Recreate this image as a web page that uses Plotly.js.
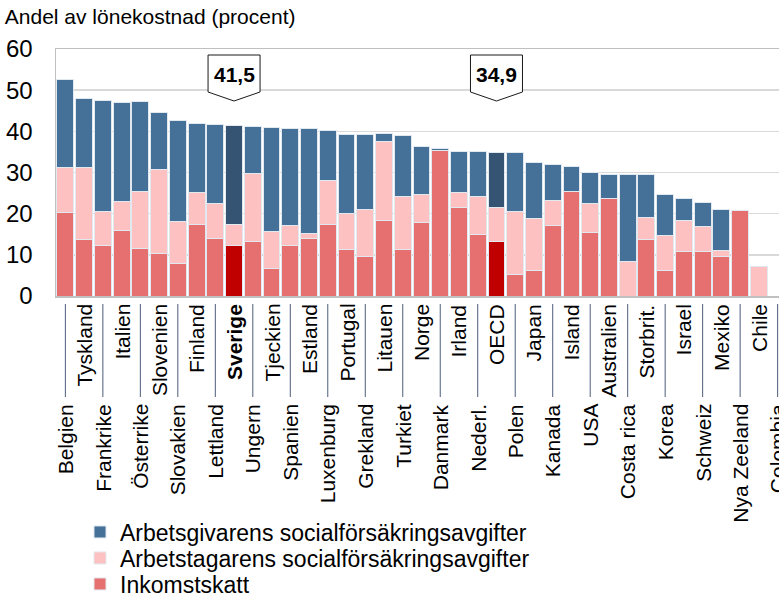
<!DOCTYPE html>
<html>
<head>
<meta charset="utf-8">
<script src="https://cdn.plot.ly/plotly-3.0.1.min.js"></script>
<style>
html,body{margin:0;padding:0;overflow:hidden;background:#fff;width:779px;height:597px;}
#chart{width:800px;height:597px;}
</style>
</head>
<body>
<div id="chart"></div>
<script>
const countries = ["Belgien","Tyskland","Frankrike","Italien","Österrike","Slovenien","Slovakien","Finland","Lettland","Sverige","Ungern","Tjeckien","Spanien","Estland","Luxenburg","Portugal","Grekland","Litauen","Turkiet","Norge","Danmark","Irland","Nederl.","OECD","Polen","Japan","Kanada","Island","USA","Australien","Costa rica","Storbrit.","Korea","Israel","Schweiz","Mexiko","Nya Zeeland","Chile","Colombia"];
const inkomstskatt = [20.2,13.8,12.2,15.8,11.5,10.3,7.9,17.4,13.9,12.2,13.2,6.8,12.2,13.9,17.4,11.3,9.6,18.3,11.3,17.8,35.4,21.5,14.9,13.2,5.3,6.2,17.2,25.5,15.4,23.8,0,13.8,6.2,10.7,10.8,9.7,20.7,0,0];
const arbetstagare = [11.0,17.3,8.3,7.2,14.0,20.4,10.3,7.7,8.6,5.2,16.5,8.9,5.0,1.3,10.7,8.8,11.3,19.2,12.9,6.9,0,3.6,9.3,8.2,15.3,12.7,6.1,0,7.1,0,8.4,5.3,8.4,7.6,6.0,1.3,0,7.1,0];
const arbetsgivare = [21.4,16.9,26.9,24.1,21.7,13.9,24.4,16.7,19.1,24.1,11.5,25.3,23.4,25.4,12.2,19.2,18.3,1.9,14.8,11.6,0.5,10.1,10.8,13.5,14.2,13.6,8.7,6.0,7.5,5.7,21.0,10.3,10.1,5.5,6.0,9.9,0,0,0];
const highlighted = ["Sverige","OECD"];
const seriesNames = ["Inkomstskatt","Arbetstagarens socialförsäkringsavgifter","Arbetsgivarens socialförsäkringsavgifter"];
const yTicks = [0,10,20,30,40,50,60];

const idx = countries.map((c,i)=>i);
const isHi = countries.map(c=>highlighted.includes(c));
const lineStyle = {color:'rgba(225,232,240,1)', width:1};

const traces = [
  {type:'bar', name:seriesNames[0], x:idx, y:inkomstskatt, legend:'legend3',
   marker:{color:isHi.map(h=>h?'#c00000':'#e67070'), line:lineStyle}},
  {type:'bar', name:seriesNames[1], x:idx, y:arbetstagare, legend:'legend2',
   marker:{color:isHi.map(h=>'#fdc1c1'), line:lineStyle}},
  {type:'bar', name:seriesNames[2], x:idx, y:arbetsgivare, legend:'legend',
   marker:{color:isHi.map(h=>h?'#355373':'#457199'), line:lineStyle}}
].map(t=>Object.assign(t,{hoverinfo:'skip'}));

const label = c => c==="Sverige" ? "<b>"+c+"</b>" : c;

const shapes = [];
const annotations = [];
// staggered category labels: odd positions in the upper row, even in the lower row
idx.forEach(i=>{
  const lower = (i%2===0);
  annotations.push({xref:'x', yref:'paper', x:i, y:0, xanchor:'center', yanchor:'top',
    yshift: lower ? -107 : -7, textangle:-90, text:label(countries[i]), showarrow:false,
    font:{size:21, color:'#000'}, borderpad:0});
  if(lower){
    shapes.push({type:'line', xref:'x', yref:'paper', ysizemode:'pixel', yanchor:0,
      x0:i, x1:i, y0:-8, y1:-101, line:{color:'#4d5d7a', width:1}});
  }
});
highlighted.forEach(c=>{
  const i = countries.indexOf(c);
  const total = inkomstskatt[i]+arbetstagare[i]+arbetsgivare[i];
  shapes.push({type:'path', xref:'x', yref:'paper', xsizemode:'pixel', ysizemode:'pixel',
    xanchor:i, yanchor:1, path:'M-26,-6 L26,-6 L26,-43 L0,-52 L-26,-43 Z',
    fillcolor:'#ffffff', line:{color:'#1a1a1a', width:1}});
  annotations.push({xref:'x', yref:'paper', x:i, y:1, yanchor:'middle', yshift:-25,
    text:'<b>'+total.toFixed(1).replace('.',',')+'</b>', showarrow:false,
    font:{size:21, color:'#000'}});
});

const legendBase = {xref:'container', yref:'container', xanchor:'left', yanchor:'middle',
  font:{size:23, color:'#000'}, bgcolor:'rgba(0,0,0,0)', x:80/800};

const layout = {
  width:800, height:597,
  margin:{l:56, r:13, t:49, b:301, autoexpand:false},
  paper_bgcolor:'#fff', plot_bgcolor:'#fff',
  font:{family:'"Liberation Sans", Arial, sans-serif', color:'#000'},
  barmode:'stack', bargap:0.1,
  showlegend:true,
  title:{text:'Andel av lönekostnad (procent)', xref:'container', yref:'container',
    x:0.006, xanchor:'left', y:1-17/597, yanchor:'middle', font:{size:21, color:'#000'}},
  xaxis:{type:'linear', range:[-0.5,38.5], showticklabels:false, ticks:'',
    showgrid:false, zeroline:false,
    showline:true, mirror:true, linecolor:'#c0c0c0', linewidth:1.5, fixedrange:true},
  yaxis:{range:[0,60], tickmode:'array', tickvals:yTicks, ticks:'',
    tickfont:{size:24}, ticklabelstandoff:17, showgrid:true, gridcolor:'#d9d9d9',
    gridwidth:1.5, zeroline:false, showline:true, linecolor:'#c0c0c0', linewidth:1.5},
  legend:Object.assign({}, legendBase, {y:1-532/597}),
  legend2:Object.assign({}, legendBase, {y:1-558/597}),
  legend3:Object.assign({}, legendBase, {y:1-584/597}),
  shapes:shapes, annotations:annotations
};
Plotly.newPlot('chart', traces, layout, {displayModeBar:false, staticPlot:true});
</script>
</body>
</html>
